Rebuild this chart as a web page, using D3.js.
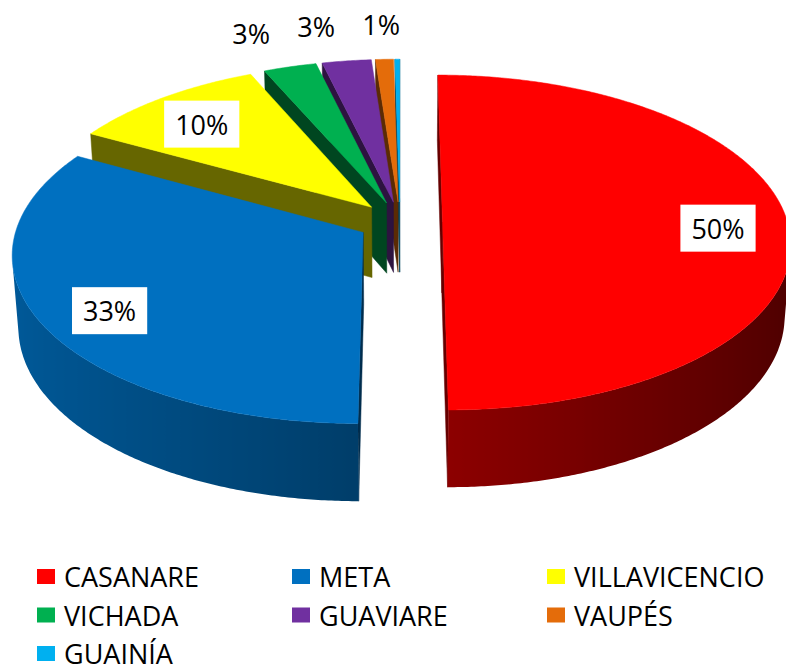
<!DOCTYPE html>
<html>
<head>
<meta charset="utf-8">
<script src="https://cdn.jsdelivr.net/npm/d3@7"></script>
<style>
  body { margin: 0; background: #fff; }
  svg { display: block; font-family: 'Open Sans', sans-serif; }
</style>
</head>
<body>
<div id="graf"></div>
<script>
// datos (porcentaje por departamento)
var departamentos = ['CASANARE', 'META', 'VILLAVICENCIO', 'VICHADA', 'GUAVIARE', 'VAUPÉS', 'GUAINÍA']
var porcentajes = [50, 33, 10.4, 2.8, 2.6, 0.95, 0.25]

// variables globales
var ancho_total = 786, alto_total = 668
var cx = 400, cy = 222
var radio = 345, grosor = 82, explosion = 42.5
var dist = 2476
var inclinacion = Math.asin(0.478)
var sinT = Math.sin(inclinacion), cosT = Math.cos(inclinacion)
var fontSize = 27
var camara = [0, -dist * cosT, dist * sinT]

var svg = d3.select('#graf').append('svg')
            .attr('width', ancho_total)
            .attr('height', alto_total)

var defs = svg.append('defs')

var color = d3.scaleOrdinal()
              .domain(departamentos)
              .range(['#FF0000', '#0070C0', '#FFFF00', '#00B050', '#7030A0', '#E46C0A', '#00B0F0'])

var datos = departamentos.map((d, i) => ({ nombre: d, valor: porcentajes[i] }))
var total = d3.sum(porcentajes)

var pie = d3.pie()
            .sort(null)
            .value(d => d.valor)
            .startAngle(0)
            .endAngle(2 * Math.PI)

var arcos = pie(datos)

// proyeccion en perspectiva de un punto (X derecha, Y hacia el fondo, Z arriba)
function proyectar(X, Y, Z) {
  var v = Y * sinT + Z * cosT
  var w = Y * cosT - Z * sinT
  var f = dist / (dist + w)
  return [cx + X * f, cy - v * f]
}

function visible(nx, ny, px, py) {
  return nx * (camara[0] - px) + ny * (camara[1] - py) > 0
}

function sombra(base, k) {
  var c = d3.rgb(base)
  return d3.rgb(c.r * k, c.g * k, c.b * k).formatHex()
}

var linea = d3.line()
function poligono(pts) { return linea(pts) + 'Z' }

arcos.forEach(a => {
  var m = (a.startAngle + a.endAngle) / 2
  a.ox = explosion * Math.sin(m)
  a.oy = explosion * Math.cos(m)
  a.medio = m
  a.prof = a.oy + 0.5 * radio * Math.cos(m)
})

function borde(a, ang, r, z) {
  return [a.ox + r * Math.sin(ang), a.oy + r * Math.cos(ang), z]
}

// rebanadas del fondo primero
var orden = arcos.slice().sort((p, q) => q.prof - p.prof)

var g = svg.append('g')

orden.forEach((a, idx) => {
  var base = color(a.data.nombre)
  var grupo = g.append('g')
  var a0 = a.startAngle, a1 = a.endAngle
  var P = (p) => proyectar(p[0], p[1], p[2])

  // caras radiales
  ;[[a0, -Math.cos(a0), Math.sin(a0)], [a1, Math.cos(a1), -Math.sin(a1)]].forEach(c => {
    var ang = c[0]
    var medio = borde(a, ang, radio / 2, 0)
    if (!visible(c[1], c[2], medio[0], medio[1])) return
    var fill = sombra(base, 0.4)
    grupo.append('path')
         .attr('d', poligono([P([a.ox, a.oy, 0]), P(borde(a, ang, radio, 0)), P(borde(a, ang, radio, -grosor)), P([a.ox, a.oy, -grosor])]))
         .attr('fill', fill)
         .attr('stroke', fill)
         .attr('stroke-width', 0.5)
  })

  // pared exterior con degradado
  var n = Math.max(2, Math.ceil((a1 - a0) / (Math.PI / 360)))
  var paso = (a1 - a0) / n
  var angVis = []
  for (var i = 0; i <= n; i++) {
    var t = a0 + i * paso
    var pt = borde(a, t, radio, 0)
    if (visible(Math.sin(t), Math.cos(t), pt[0], pt[1])) angVis.push(t)
  }
  if (angVis.length > 1) {
    var arriba = angVis.map(t => P(borde(a, t, radio, 0)))
    var abajo = angVis.map(t => P(borde(a, t, radio, -grosor))).reverse()
    var xs = arriba.map(p => p[0])
    var xmin = d3.min(xs), xmax = d3.max(xs)
    var paradas = angVis.map((t, j) => ({
      off: (xs[j] - xmin) / (xmax - xmin || 1),
      col: sombra(base, Math.max(0.25, Math.min(0.9, 0.55 - 0.25 * Math.sin(t))))
    })).sort((p, q) => p.off - q.off)
    var grad = defs.append('linearGradient')
                   .attr('id', 'pared' + idx)
                   .attr('gradientUnits', 'userSpaceOnUse')
                   .attr('x1', xmin).attr('x2', xmax)
                   .attr('y1', 0).attr('y2', 0)
    grad.selectAll('stop')
        .data(paradas)
        .enter()
        .append('stop')
          .attr('offset', d => d.off)
          .attr('stop-color', d => d.col)
    grupo.append('path')
         .attr('d', poligono(arriba.concat(abajo)))
         .attr('fill', `url(#pared${ idx })`)
  }

  // cara superior
  var sup = [P([a.ox, a.oy, 0])]
  for (var j = 0; j <= n; j++) sup.push(P(borde(a, a0 + j * paso, radio, 0)))
  grupo.append('path')
       .attr('d', poligono(sup))
       .attr('fill', base)
       .attr('stroke', base)
       .attr('stroke-width', 0.5)
})

// etiquetas de porcentaje
var etiquetas = arcos.map(a => {
  var pct = Math.round(a.data.valor / total * 100)
  var dentro = a.data.valor / total >= 0.05
  var r = dentro ? radio * 0.8 : radio * 1.275
  var p = proyectar(a.ox + r * Math.sin(a.medio), a.oy + r * Math.cos(a.medio), dentro ? -8 : 0)
  return { texto: pct + '%', dentro: dentro, x: p[0], y: p[1], pct: pct }
}).filter(d => d.pct > 0)

// evitar que se encimen las etiquetas de afuera
var afuera = etiquetas.filter(d => !d.dentro).sort((p, q) => q.x - p.x)
for (var i = 1; i < afuera.length; i++) {
  if (afuera[i].x > afuera[i - 1].x - 65) afuera[i].x = afuera[i - 1].x - 65
}

var gl = svg.append('g')
etiquetas.forEach(d => {
  var grupo = gl.append('g')
  var txt = grupo.append('text')
                .attr('x', d.x)
                .attr('y', d.y + fontSize * 0.357)
                .attr('text-anchor', 'middle')
                .style('font-size', fontSize + 'px')
                .attr('fill', '#000')
                .text(d.texto)
  if (d.dentro) {
    var bb = txt.node().getBBox()
    grupo.insert('rect', 'text')
         .attr('x', bb.x - 11)
         .attr('y', bb.y - 5)
         .attr('width', bb.width + 22)
         .attr('height', bb.height + 10)
         .attr('fill', '#fff')
  }
})

// leyenda
var leyenda = svg.append('g')
                 .attr('transform', 'translate(37, 587)')

var items = leyenda.selectAll('g')
                   .data(departamentos)
                   .enter()
                   .append('g')
                   .attr('transform', (d, i) => `translate(${ (i % 3) * 255 }, ${ Math.floor(i / 3) * 38.5 })`)

items.append('rect')
     .attr('x', 0)
     .attr('y', -18)
     .attr('width', 18)
     .attr('height', 15)
     .attr('fill', d => color(d))

items.append('text')
     .attr('x', 27)
     .attr('y', 0)
     .style('font-size', fontSize + 'px')
     .attr('fill', '#000')
     .text(d => d)
</script>
</body>
</html>
